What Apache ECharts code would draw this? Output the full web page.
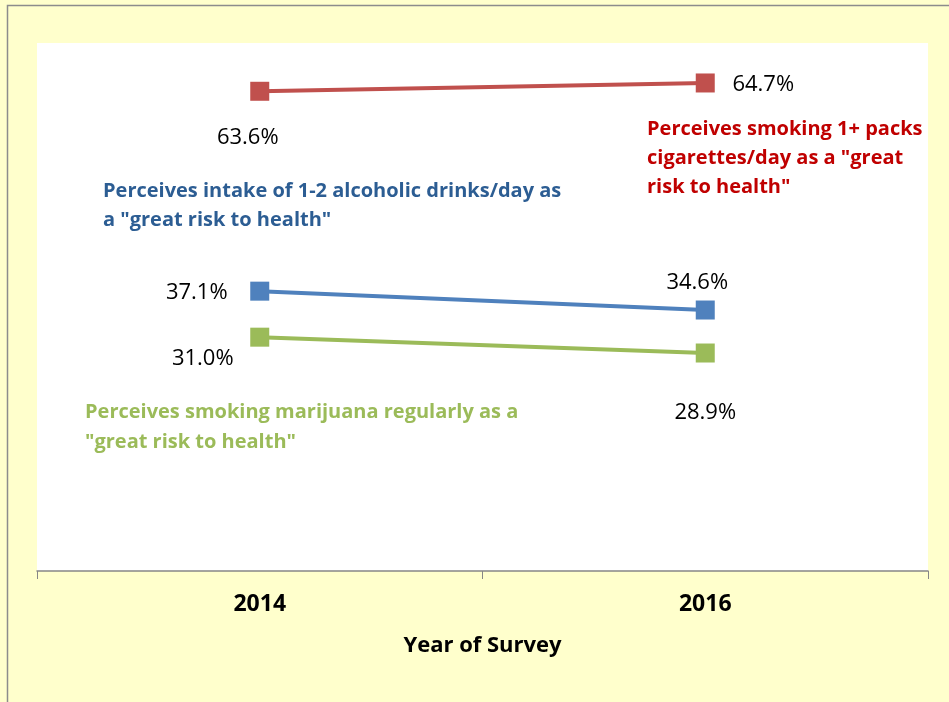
<!DOCTYPE html>
<html>
<head>
<meta charset="utf-8">
<script src="https://cdn.jsdelivr.net/npm/echarts@6/dist/echarts.min.js"></script>
<style>
  html, body { margin: 0; padding: 0; background: #ffffcc; }
  #chart { width: 949px; height: 702px; }
</style>
</head>
<body>
<div id="chart"></div>
<script>
var years = ['2014', '2016'];
var cigarettes = [63.6, 64.7];
var alcohol = [37.1, 34.6];
var marijuana = [31.0, 28.9];

// label offsets from each point (layout only)
var cigOffsets = [[-12, 46], [58, 2]];
var alcOffsets = [[-63, 2], [-8, -27]];
var marOffsets = [[-57, 22], [0, 60]];

var FONT = '"Open Sans", Lato, sans-serif';

function withLabels(values, offsets) {
    return values.map(function(v, i) {
        return { value: v, label: { offset: offsets[i] } };
    });
}

function lineSeries(name, values, offsets, color) {
    return {
        name: name,
        type: 'line',
        data: withLabels(values, offsets),
        symbol: 'rect',
        symbolSize: 19,
        lineStyle: { color: color, width: 4 },
        itemStyle: { color: color },
        label: {
            show: true,
            position: 'inside',
            color: '#000',
            fontFamily: FONT,
            fontSize: 22,
            formatter: function(p) { return p.value.toFixed(1) + '%'; }
        },
        animation: false
    };
}

var chart = echarts.init(document.getElementById('chart'));
chart.setOption({
    backgroundColor: '#ffffcc',
    grid: { left: 37, right: 21, top: 43, bottom: 131, show: true, backgroundColor: '#fff', borderWidth: 0 },
    xAxis: {
        type: 'category',
        data: years,
        boundaryGap: true,
        axisLine: { lineStyle: { color: '#868686', width: 1.5 } },
        axisTick: { show: true, length: 8, lineStyle: { color: '#868686' } },
        axisLabel: { color: '#000', fontFamily: FONT, fontWeight: 'bold', fontSize: 23, margin: 22 },
        name: 'Year of Survey',
        nameLocation: 'middle',
        nameGap: 64,
        nameTextStyle: { color: '#000', fontFamily: FONT, fontWeight: 'bold', fontSize: 22 }
    },
    yAxis: {
        type: 'value',
        min: 0,
        max: 70,
        show: false,
        splitLine: { show: false }
    },
    series: [
        lineSeries('Cigarettes', cigarettes, cigOffsets, '#c0504d'),
        lineSeries('Alcohol', alcohol, alcOffsets, '#4f81bd'),
        lineSeries('Marijuana', marijuana, marOffsets, '#9bbb59')
    ],
    graphic: [
        {
            type: 'rect',
            shape: { x: 7.5, y: 5.5, width: 1000, height: 1000 },
            style: { fill: 'none', stroke: '#8c8c8c', lineWidth: 1.5 },
            z: 10
        },
        {
            type: 'text', left: 103, top: 177,
            style: {
                text: 'Perceives intake of 1-2 alcoholic drinks/day as\na "great risk to health"',
                fill: '#2c5d93', font: 'bold 20px ' + FONT, lineHeight: 29
            }
        },
        {
            type: 'text', left: 647, top: 115,
            style: {
                text: 'Perceives smoking 1+ packs\ncigarettes/day as a "great\nrisk to health"',
                fill: '#c00000', font: 'bold 20px ' + FONT, lineHeight: 29
            }
        },
        {
            type: 'text', left: 85, top: 397,
            style: {
                text: 'Perceives smoking marijuana regularly as a\n"great risk to health"',
                fill: '#9bbb59', font: 'bold 20px ' + FONT, lineHeight: 30
            }
        }
    ]
});
</script>
</body>
</html>
